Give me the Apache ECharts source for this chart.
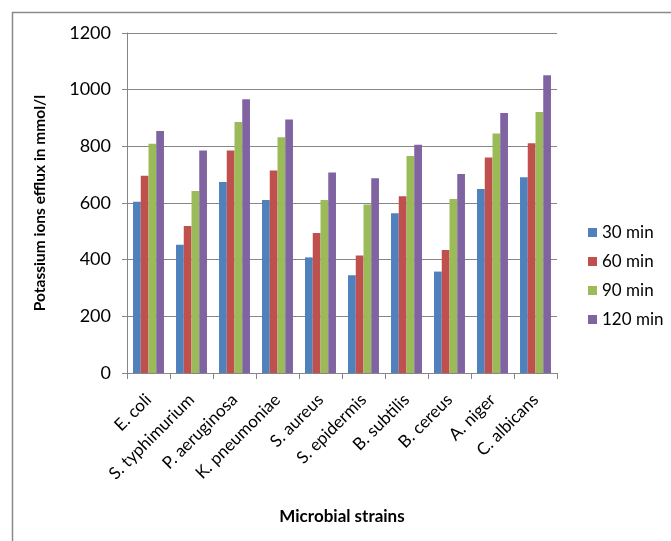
<!DOCTYPE html>
<html>
<head>
<meta charset="utf-8">
<script src="https://cdn.jsdelivr.net/npm/echarts@6/dist/echarts.min.js"></script>
<style>
  html, body { margin: 0; padding: 0; background: #fff; }
  #chart { width: 671px; height: 541px; }
</style>
</head>
<body>
<div id="chart"></div>
<script>
// Microbial strains on the category axis
const strains = ['E. coli', 'S. typhimurium', 'P. aeruginosa', 'K. pneumoniae', 'S. aureus',
  'S. epidermis', 'B. subtilis', 'B. cereus', 'A. niger', 'C. albicans'];

// Potassium efflux (mmol/l) after each exposure time
const min30  = [604, 453, 674, 611, 408, 345, 564, 358, 649, 691];
const min60  = [696, 519, 785, 715, 494, 415, 624, 434, 761, 811];
const min90  = [809, 642, 886, 832, 611, 595, 766, 614, 845, 921];
const min120 = [854, 785, 966, 895, 708, 687, 806, 702, 918, 1051];

const seriesNames = ['30 min', '60 min', '90 min', '120 min'];
const yTicks = [0, 200, 400, 600, 800, 1000, 1200];

const colors = ['#4F81BD', '#C0504D', '#9BBB59', '#8064A2'];
const font = 'Lato, "Open Sans", sans-serif';

const chart = echarts.init(document.getElementById('chart'), null, { renderer: 'canvas' });

const mkSeries = (name, data, i) => ({
  name: name,
  type: 'bar',
  data: data,
  barGap: '0%',
  barCategoryGap: '28%',
  itemStyle: { color: colors[i] },
  emphasis: { disabled: true }
});

chart.setOption({
  animation: false,
  color: colors,
  textStyle: { fontFamily: font },
  graphic: [{
    type: 'rect',
    shape: { x: 12.5, y: 12.5, width: 720, height: 620 },
    style: { fill: 'none', stroke: '#8a8a8a', lineWidth: 1.5 },
    silent: true,
    z: -1
  }],
  grid: { left: 127, right: 114, top: 33, bottom: 168 },
  legend: {
    orient: 'vertical',
    left: 583,
    top: 219,
    itemWidth: 9,
    itemHeight: 9,
    itemGap: 12,
    icon: 'rect',
    data: seriesNames,
    textStyle: { fontFamily: font, fontSize: 17, color: '#000' }
  },
  xAxis: {
    type: 'category',
    data: strains,
    name: 'Microbial strains',
    nameLocation: 'middle',
    nameGap: 135,
    nameTextStyle: { fontFamily: font, fontSize: 17, fontWeight: 'bold', color: '#000' },
    axisLine: { lineStyle: { color: '#868686', width: 1 } },
    axisTick: { show: true, length: 6, lineStyle: { color: '#868686' } },
    axisLabel: { rotate: 45, fontSize: 17, color: '#000', margin: 24, fontFamily: font }
  },
  yAxis: {
    type: 'value',
    min: 0,
    max: 1200,
    interval: 200,
    name: 'Potassium ions efflux in mmol/l',
    nameLocation: 'middle',
    nameGap: 79,
    nameRotate: 90,
    nameTextStyle: { fontFamily: font, fontSize: 15.5, fontWeight: 'bold', color: '#000' },
    axisLine: { show: true, lineStyle: { color: '#868686', width: 1 } },
    axisTick: { show: true, length: 5, lineStyle: { color: '#868686' } },
    axisLabel: {
      fontSize: 18, color: '#000', margin: 16, fontFamily: font,
      formatter: v => (yTicks.includes(v) ? String(v) : '')
    },
    splitLine: { lineStyle: { color: '#868686', width: 1 } }
  },
  series: [
    mkSeries(seriesNames[0], min30, 0),
    mkSeries(seriesNames[1], min60, 1),
    mkSeries(seriesNames[2], min90, 2),
    mkSeries(seriesNames[3], min120, 3)
  ]
});
</script>
</body>
</html>
